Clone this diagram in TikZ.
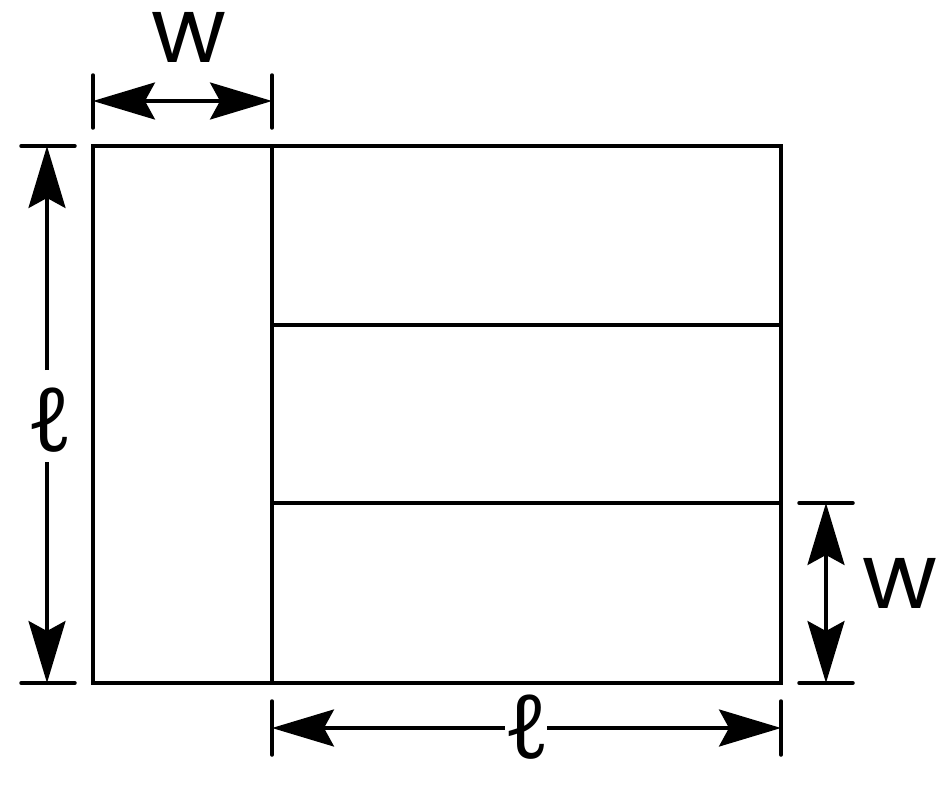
\documentclass[tikz,border=0pt]{standalone}
\usepackage{fontspec}
\setmainfont{Poppins}
\newfontfamily\ellfont{Noto Sans}
\usetikzlibrary{arrows.meta}

\begin{document}
\begin{tikzpicture}[x=0.02cm,y=-0.02cm,
                    box line/.style={line width=0.08cm},
                    ext line/.style={line width=0.07cm,line cap=round},
                    dim line/.style={line width=0.07cm,
                      {Stealth[length=1.24cm,width=0.74cm,inset=0.2cm]}-{Stealth[length=1.24cm,width=0.74cm,inset=0.2cm]}},
                    half line/.style={line width=0.07cm,
                      -{Stealth[length=1.24cm,width=0.74cm,inset=0.2cm]}},
                    width label/.style={font=\fontsize{52}{52}\selectfont,inner sep=0pt},
                    length label/.style={font=\ellfont\fontsize{50}{50}\selectfont,inner sep=0pt}]

  \useasboundingbox (0,0) rectangle (948,791);

  % rooms
  \coordinate (nw) at (93,146);
  \coordinate (ne) at (781,146);
  \coordinate (sw) at (93,683);
  \coordinate (se) at (781,683);
  \coordinate (n) at (272,146);
  \coordinate (s) at (272,683);
  \coordinate (m1) at (272,325);
  \coordinate (m2) at (272,503);
  \coordinate (e1) at (781,325);
  \coordinate (e2) at (781,503);
  \draw[box line] (nw) -- (ne) -- (se) -- (sw) -- cycle;
  \draw[box line] (n) -- (s);
  \draw[box line] (m1) -- (e1);
  \draw[box line] (m2) -- (e2);

  % top
  \coordinate (t1a) at (93,75);
  \coordinate (t1b) at (93,128);
  \coordinate (t2a) at (272,75);
  \coordinate (t2b) at (272,128);
  \coordinate (t1) at (93,101);
  \coordinate (t2) at (272,101);
  \draw[ext line] (t1a) -- (t1b);
  \draw[ext line] (t2a) -- (t2b);
  \draw[dim line] (t1) -- (t2);
  \node[width label] (wtop) at (189,37) {w};

  % left
  \coordinate (l1a) at (21,146);
  \coordinate (l1b) at (75,146);
  \coordinate (l2a) at (21,683);
  \coordinate (l2b) at (75,683);
  \coordinate (l1) at (47,146);
  \coordinate (l2) at (47,683);
  \coordinate (l1g) at (47,370);
  \coordinate (l2g) at (47,462);
  \draw[ext line] (l1a) -- (l1b);
  \draw[ext line] (l2a) -- (l2b);
  \draw[half line] (l1g) -- (l1);
  \draw[half line] (l2g) -- (l2);
  \node[length label] (elleft) at (50,420) {ℓ};

  % bottom
  \coordinate (b1a) at (272,701);
  \coordinate (b1b) at (272,755);
  \coordinate (b2a) at (781,701);
  \coordinate (b2b) at (781,755);
  \coordinate (b1) at (272,728);
  \coordinate (b2) at (781,728);
  \coordinate (b1g) at (505,728);
  \coordinate (b2g) at (547,728);
  \draw[ext line] (b1a) -- (b1b);
  \draw[ext line] (b2a) -- (b2b);
  \draw[half line] (b1g) -- (b1);
  \draw[half line] (b2g) -- (b2);
  \node[length label] (elbottom) at (527,727) {ℓ};

  % right
  \coordinate (r1a) at (799,503);
  \coordinate (r1b) at (853,503);
  \coordinate (r2a) at (799,683);
  \coordinate (r2b) at (853,683);
  \coordinate (r1) at (826,503);
  \coordinate (r2) at (826,683);
  \draw[ext line] (r1a) -- (r1b);
  \draw[ext line] (r2a) -- (r2b);
  \draw[dim line] (r1) -- (r2);
  \node[width label] (wright) at (900,583) {w};
\end{tikzpicture}
\end{document}
